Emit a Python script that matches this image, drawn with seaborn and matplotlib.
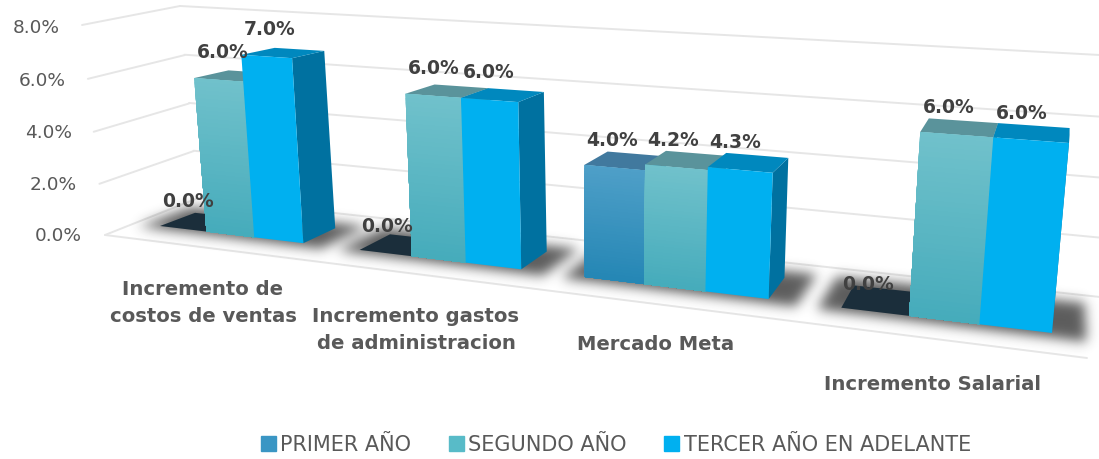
import numpy as np, pandas as pd
import matplotlib
matplotlib.use("Agg")
import matplotlib.pyplot as plt
import seaborn as sns
from matplotlib.transforms import Transform, IdentityTransform
from matplotlib.patches import Polygon, Patch
from matplotlib.lines import Line2D
from matplotlib.path import Path
from matplotlib.colors import to_rgb

categories = ["Incremento de\ncostos de ventas", "Incremento gastos\nde administracion", "Mercado Meta", "Incremento Salarial"]
series_names = ["PRIMER AÑO", "SEGUNDO AÑO", "TERCER AÑO EN ADELANTE"]
primer = [0.0, 0.0, 4.0, 0.0]
segundo = [6.0, 6.0, 4.2, 6.0]
tercer = [7.0, 6.0, 4.3, 6.0]
y_ticks = [0, 2, 4, 6, 8]

W, Ht = 1099, 459
BAR_GROUP = 0.73
sns.set_theme(style="white")
plt.rcParams["font.family"] = ["DejaVu Sans"]


class Homography(Transform):
    input_dims = output_dims = 2
    is_separable = False
    has_inverse = False

    def __init__(self, src, dst):
        super().__init__()
        A, b = [], []
        for (x, y), (X, Y) in zip(src, dst):
            A.append([x, y, 1, 0, 0, 0, -X * x, -X * y]); b.append(X)
            A.append([0, 0, 0, x, y, 1, -Y * x, -Y * y]); b.append(Y)
        h = np.linalg.solve(np.array(A, float), np.array(b, float))
        self.m = np.append(h, 1).reshape(3, 3)

    def transform_non_affine(self, values):
        v = np.asarray(values, float)
        q = np.c_[v, np.ones(len(v))] @ self.m.T
        return np.c_[q[:, 0] / q[:, 2], Ht - q[:, 1] / q[:, 2]]


u0, u1 = -BAR_GROUP / 2, 3 + BAR_GROUP / 2
H = Homography([(u0, 0), (u1, 0), (u1, 6), (u0, 6)],
               [(160, 226), (1052, 333), (1069, 143), (146.5, 74.5)])
BACK = Homography([(0, 0), (1, 0), (1, 8), (0, 8)],
                  [(198, 198), (1100, 297), (1100, 55), (180, 6)])
LEFT = Homography([(0, 0), (1, 0), (1, 8), (0, 8)],
                  [(105, 235), (198, 198), (180, 6), (82, 25)])
VP = np.array([1080.0, Ht + 120.0])


def P(u, v, d=0.0):
    """Display position of plane point (u, v) pushed back by depth d."""
    p = H.transform(np.array([[u, v]], float))[0]
    k = 0.041 + (p[0] - 300) / 770 * 0.016
    return p + d * k * (VP - p)


df = pd.DataFrame({
    "categoria": np.tile(categories, 3),
    "serie": np.repeat(series_names, 4),
    "valor": primer + segundo + tercer,
})

fig = plt.figure(figsize=(W / 100, Ht / 100), dpi=100, facecolor="white")
ax = fig.add_axes([0, 0, 1, 1])
sns.barplot(data=df, x="categoria", y="valor", hue="serie", hue_order=series_names,
            order=categories, width=BAR_GROUP, gap=0, dodge=True, ax=ax, legend=False,
            palette=["#3A96C4", "#58BBC8", "#00B0F0"], saturation=1, err_kws={"linewidth": 0})
ax.set_axis_off()

# walls
GRID = "#e6e6e6"
for t in y_ticks:
    fig.add_artist(Line2D([0, 1], [t, t], transform=BACK, color=GRID, lw=1.4, zorder=-3))
    fig.add_artist(Line2D([0, 1], [t, t], transform=LEFT, color=GRID, lw=1.4, zorder=-3))
floor = Homography([(0, 0), (1, 0), (1, 1), (0, 1)], [(105, 235), (1087, 358), (1087, 359), (105, 236)])
fig.add_artist(Line2D([0, 1], [0, 0], transform=floor, color=GRID, lw=1.4, zorder=-3))

tick_pos = [(82, 236), (77, 185), (72, 133), (66, 81), (60, 28)]
for t, (x, y) in zip(y_ticks, tick_pos):
    fig.text(x / W, 1 - y / Ht, f"{t:.1f}%", ha="right", va="center", fontsize=13.3, color="#595959")

# blurred floor shadows
yy, xx = np.mgrid[0:Ht, 0:W]
grid = np.c_[xx.ravel() + .5, Ht - yy.ravel() - .5]
mask = np.zeros(W * Ht)
for i in range(4):
    a, b = i - BAR_GROUP / 2 - 0.08, i + BAR_GROUP / 2 + 0.11
    poly = [P(a, 0, -0.18), P(b, 0, -0.18), P(b, 0, 1.3), P(a, 0, 1.3)]
    mask[Path(poly).contains_points(grid)] = 1
mask = mask.reshape(Ht, W)
kx = np.arange(-20, 21)
kern = np.exp(-kx ** 2 / (2 * 6.0 ** 2)); kern /= kern.sum()
mask = np.apply_along_axis(lambda r: np.convolve(r, kern, "same"), 1, mask)
mask = np.apply_along_axis(lambda r: np.convolve(r, kern, "same"), 0, mask)
rgba = np.zeros((Ht, W, 4)); rgba[..., :3] = 0.15; rgba[..., 3] = np.clip(mask, 0, 1) * 0.75
fig.figimage(rgba, 0, 0, origin="upper", zorder=-1)

# faces
grad = [("#4E9FC8", "#2486B4"), ("#70C1CB", "#45ABBB"), ("#00B0F0", "#00B0F0")]
tops = ["#41799E", "#5A939B", "#0088BE"]
sides = ["#2B6F94", "#3F8A96", "#0071A0"]
ZERO = "#1B2E3B"
z = 5
labels = []
for g in range(4):
    for s, cont in enumerate(ax.containers):
        bar = cont[g]
        a, b, v = bar.get_x(), bar.get_x() + bar.get_width(), bar.get_height()
        z += 1
        ax.add_patch(Polygon([P(b, 0), P(b, 0, 1), P(b, v, 1), P(b, v)], transform=IdentityTransform(),
                             fc=sides[s], lw=0, zorder=z, clip_on=False))
        ax.add_patch(Polygon([P(a, v), P(b, v), P(b, v, 1), P(a, v, 1)], transform=IdentityTransform(),
                             fc=ZERO if v == 0 else tops[s], lw=0, zorder=z, clip_on=False))
        z += 1
        bar.set_transform(H); bar.set_clip_on(False); bar.set_zorder(z); bar.set_linewidth(0)
        if v > 0 and grad[s][0] != grad[s][1]:
            c0, c1 = np.array(to_rgb(grad[s][0])), np.array(to_rgb(grad[s][1]))
            for t in np.linspace(0, 1, 40)[:-1]:
                vt = v * (1 - t)
                ax.add_patch(Polygon([(a, vt), (b, vt), (b, 0), (a, 0)], transform=H,
                                     fc=c0 + (c1 - c0) * t, lw=0, zorder=z, clip_on=False))
        m = P((a + b) / 2, v)
        dx = 4 - (m[0] - 217) * 13 / 812
        labels.append((m[0] + dx, m[1] + 27, f"{v:.1f}%"))

for x, y, s in labels:
    ax.text(x, y, s, transform=IdentityTransform(), ha="center", va="center", fontsize=13.5,
            fontweight="bold", color="#404040", zorder=500, clip_on=False)

cat_pos = [(203, 303), (416, 330), (656, 345), (932, 384)]
for c, (x, y) in zip(categories, cat_pos):
    fig.text(x / W, 1 - y / Ht, c, ha="center", va="center", fontsize=14.1, fontweight="bold",
             color="#595959", linespacing=1.5)

handles = [Patch(color=c) for c in ["#3A96C4", "#58BBC8", "#00B0F0"]]
fig.legend(handles, series_names, ncol=3, loc="center", bbox_to_anchor=(616 / W, 1 - 445 / Ht),
           frameon=False, labelcolor="#595959", handlelength=0.72, handleheight=0.72,
           handletextpad=0.22, columnspacing=1.8, borderpad=0, prop={"size": 15})
fig.savefig("out.png", dpi=100)
